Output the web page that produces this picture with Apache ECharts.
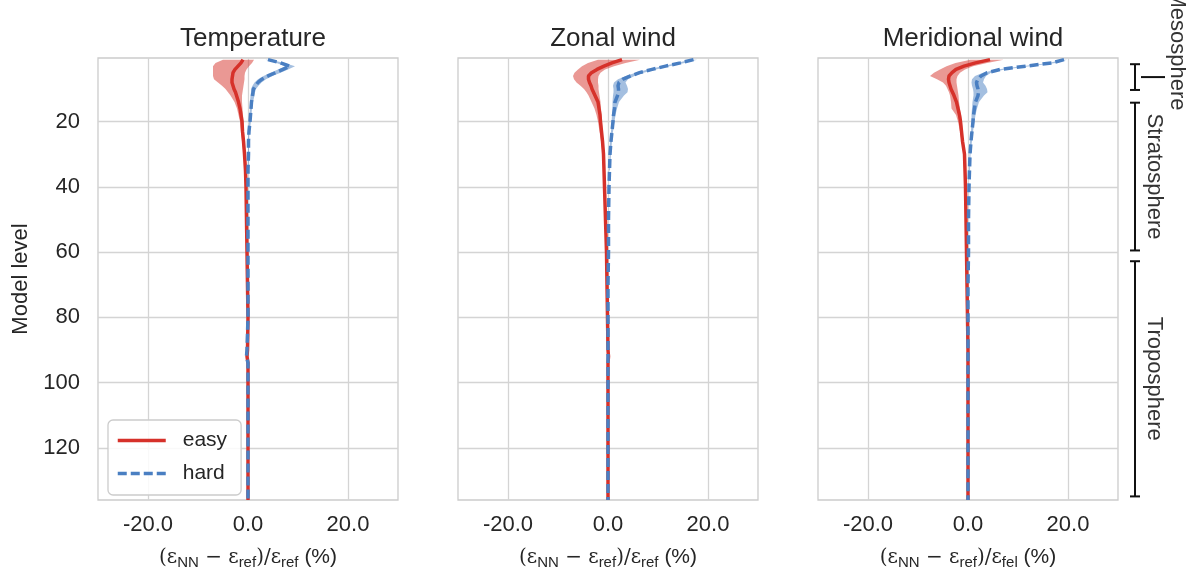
<!DOCTYPE html>
<html>
<head>
<meta charset="utf-8">
<script src="https://cdn.jsdelivr.net/npm/echarts@6/dist/echarts.min.js"></script>
<style>
html, body { margin: 0; padding: 0; background: #fff; }
#chart { width: 1186px; height: 575px; }
</style>
</head>
<body>
<div id="chart"></div>
<script>
var lineLevels = [1, 2, 3, 4, 5, 6, 7, 8, 9, 10, 11, 12, 14, 16, 18, 20, 23, 26, 30, 35, 40, 50, 60, 70, 80, 90, 92, 94, 100, 110, 120, 130, 136]
var bandLevels = [1, 2, 3, 4, 5, 6, 7, 8, 9, 10, 11, 12, 14, 16, 18, 20, 23, 26, 30, 35]

var panelTitles = ['Temperature', 'Zonal wind', 'Meridional wind']
var xTicks = [-20, 0, 20]
var yTicks = [20, 40, 60, 80, 100, 120]

// Temperature
var tEasy = [-1.0, -1.4, -2.0, -2.6, -3.0, -3.1, -3.2, -3.2, -3.0, -2.8, -2.5, -2.3, -1.9, -1.6, -1.4, -1.2, -1.1, -0.9, -0.7, -0.5, -0.4, -0.3, -0.2, -0.1, 0.0, -0.1, -0.2, 0.0, 0.0, 0.0, 0.0, 0.0, 0.0]
var tEasyLo = [-5.0, -6.5, -7.0, -7.0, -7.0, -7.0, -6.8, -6.0, -5.2, -4.5, -4.0, -3.5, -2.7, -2.2, -1.9, -1.6, -1.4, -1.2, -0.9, -0.7]
var tEasyHi = [1.2, 0.8, 0.2, -0.3, -0.6, -0.7, -0.7, -0.8, -0.9, -1.0, -1.1, -1.2, -1.2, -1.1, -1.0, -0.9, -0.8, -0.7, -0.5, -0.4]
var tHard = [4.0, 6.5, 8.4, 7.0, 5.5, 4.0, 2.8, 2.0, 1.5, 1.1, 1.0, 0.9, 0.7, 0.6, 0.5, 0.4, 0.2, 0.1, 0.1, 0.0, 0.0, 0.0, 0.0, 0.0, 0.0, -0.2, -0.3, 0.0, 0.0, 0.0, 0.0, 0.0, 0.0]
var tHardLo = [3.5, 5.7, 7.4, 6.0, 4.5, 3.1, 2.0, 1.3, 0.9, 0.6, 0.6, 0.5, 0.4, 0.4, 0.3, 0.2, 0.1, 0.0, 0.0, -0.1]
var tHardHi = [4.5, 7.3, 9.4, 8.0, 6.5, 4.9, 3.6, 2.7, 2.1, 1.6, 1.4, 1.3, 1.0, 0.8, 0.7, 0.6, 0.3, 0.2, 0.2, 0.1]

// Zonal wind
var uEasy = [2.8, 0.8, -0.8, -2.2, -3.3, -3.9, -3.9, -3.7, -3.4, -3.2, -2.9, -2.6, -2.0, -1.8, -1.6, -1.5, -1.3, -1.1, -0.9, -0.8, -0.7, -0.5, -0.3, -0.2, -0.1, 0.0, 0.1, 0.0, 0.0, 0.0, 0.0, 0.0, 0.0]
var uEasyLo = [-2.0, -4.0, -5.2, -6.0, -6.7, -7.0, -6.8, -6.3, -5.5, -4.8, -4.3, -3.9, -3.3, -2.7, -2.3, -2.0, -1.7, -1.4, -1.1, -0.9]
var uEasyHi = [6.4, 3.5, 1.2, -0.6, -1.5, -1.9, -2.0, -2.0, -1.9, -1.9, -1.8, -1.7, -1.5, -1.4, -1.3, -1.2, -1.1, -0.9, -0.7, -0.6]
var uHard = [17.1, 14.5, 11.5, 8.8, 6.3, 4.5, 3.0, 2.2, 2.0, 2.1, 2.1, 1.9, 1.4, 1.3, 1.1, 1.0, 0.8, 0.6, 0.4, 0.3, 0.2, 0.1, 0.1, 0.0, 0.0, 0.0, 0.0, 0.0, 0.0, 0.0, 0.0, 0.0, 0.0]
var uHardLo = [16.4, 13.8, 10.8, 8.0, 5.5, 3.6, 2.0, 1.2, 1.0, 1.1, 1.1, 1.0, 0.9, 0.9, 0.8, 0.7, 0.6, 0.4, 0.3, 0.2]
var uHardHi = [17.8, 15.3, 12.3, 9.6, 7.1, 5.3, 4.0, 3.5, 3.8, 4.0, 3.9, 3.2, 2.2, 1.8, 1.5, 1.3, 1.0, 0.8, 0.6, 0.4]

// Meridional wind
var vEasy = [4.4, 1.5, -0.8, -2.4, -3.2, -3.8, -3.9, -3.8, -3.6, -3.4, -3.1, -2.8, -2.3, -2.0, -1.7, -1.5, -1.3, -1.1, -0.7, -0.6, -0.5, -0.4, -0.3, -0.2, -0.1, 0.0, 0.0, 0.0, 0.0, 0.0, 0.0, 0.0, 0.0]
var vEasyLo = [0.5, -2.5, -4.3, -5.6, -6.8, -7.6, -6.2, -5.0, -4.4, -4.1, -3.8, -3.6, -3.4, -3.3, -2.4, -2.0, -1.6, -1.3, -0.9, -0.8]
var vEasyHi = [7.1, 3.8, 1.0, -0.6, -1.6, -2.1, -2.3, -2.3, -2.2, -2.1, -2.0, -1.9, -1.8, -1.6, -1.4, -1.2, -1.1, -0.9, -0.6, -0.5]
var vHard = [19.2, 16.8, 11.5, 6.5, 3.8, 2.6, 2.0, 1.7, 1.8, 2.0, 2.1, 2.0, 1.5, 1.3, 1.1, 1.0, 0.8, 0.6, 0.4, 0.3, 0.2, 0.1, 0.1, 0.0, 0.0, 0.0, 0.0, 0.0, 0.0, 0.0, 0.0, 0.0, 0.0]
var vHardLo = [18.8, 16.2, 10.8, 5.8, 3.0, 1.4, 0.8, 0.7, 0.8, 1.0, 1.1, 1.1, 0.9, 0.8, 0.7, 0.7, 0.6, 0.4, 0.3, 0.2]
var vHardHi = [19.8, 17.5, 12.3, 7.3, 4.6, 3.6, 3.2, 3.0, 3.5, 3.8, 3.9, 3.2, 2.2, 1.8, 1.5, 1.3, 1.0, 0.8, 0.5, 0.4]

// atmosphere layers on the right (model level ranges)
var layerNames = ['Mesosphere', 'Stratosphere', 'Troposphere']
var layerTop = [2.4, 14.2, 62.8]
var layerBottom = [10.3, 59.5, 134.9]

var RED = '#d6312a'
var BLUE = '#4a7fc2'
var TEXT = '#262626'
var FONT = 'Liberation Sans'

var panels = [
	{ easy: tEasy, easyLo: tEasyLo, easyHi: tEasyHi, hard: tHard, hardLo: tHardLo, hardHi: tHardHi, den: 'ref' },
	{ easy: uEasy, easyLo: uEasyLo, easyHi: uEasyHi, hard: uHard, hardLo: uHardLo, hardHi: uHardHi, den: 'ref' },
	{ easy: vEasy, easyLo: vEasyLo, easyHi: vEasyHi, hard: vHard, hardLo: vHardLo, hardHi: vHardHi, den: 'fel' }
]
var gridLefts = [98, 458, 818]

function pairs(xs, ys) {
	return xs.map(function (x, i) { return [x, ys[i]] })
}

function bandSeries(lo, hi, color, idx) {
	return {
		type: 'custom',
		xAxisIndex: idx,
		yAxisIndex: idx,
		silent: true,
		z: 1,
		data: [[0, 1]],
		renderItem: function (params, api) {
			var pts = []
			for (var i = 0; i < bandLevels.length; i++) {
				pts.push(api.coord([lo[i], bandLevels[i]]))
			}
			for (var j = bandLevels.length - 1; j >= 0; j--) {
				pts.push(api.coord([hi[j], bandLevels[j]]))
			}
			return { type: 'polygon', shape: { points: pts }, style: { fill: color } }
		}
	}
}

var grids = [], xAxes = [], yAxes = [], titles = [], series = []
panels.forEach(function (p, k) {
	grids.push({ left: gridLefts[k], top: 58, width: 300, height: 445, show: true, borderColor: '#cccccc', borderWidth: 1.3 })
	titles.push({
		text: panelTitles[k], left: gridLefts[k] + 150, top: 21, textAlign: 'center',
		textStyle: { fontFamily: FONT, fontSize: 26, fontWeight: 'normal', color: TEXT }
	})
	xAxes.push({
		type: 'value', gridIndex: k, min: -30, max: 30,
		name: '{p|(}{e|ε}{s|NN}{p| − }{e|ε}{s|ref}{p|)/}{e|ε}{s|' + p.den + '}{o| (%)}',
		nameLocation: 'middle', nameGap: 45,
		nameTextStyle: {
			rich: {
				p: { fontFamily: 'DejaVu Serif', fontSize: 20, color: TEXT },
				e: { fontFamily: 'DejaVu Serif', fontSize: 20, color: TEXT },
				s: { fontFamily: FONT, fontSize: 15, color: TEXT, padding: [10, 0, 0, 0] },
				o: { fontFamily: FONT, fontSize: 21, color: TEXT }
			}
		},
		axisLine: { show: false },
		axisTick: { show: false, customValues: xTicks },
		axisLabel: {
			customValues: xTicks, margin: 14, fontFamily: FONT, fontSize: 22, color: TEXT,
			formatter: function (v) { return v.toFixed(1) }
		},
		splitLine: { show: true, lineStyle: { color: '#d4d4d4', width: 1.3 } }
	})
	yAxes.push({
		type: 'value', gridIndex: k, inverse: true, min: 0.5, max: 136,
		name: k === 0 ? 'Model level' : '',
		nameLocation: 'middle', nameGap: 66,
		nameTextStyle: { fontFamily: FONT, fontSize: 22, color: TEXT },
		axisLine: { show: false },
		axisTick: { show: false, customValues: yTicks },
		axisLabel: { show: k === 0, customValues: yTicks, margin: 18, fontFamily: FONT, fontSize: 22, color: TEXT },
		splitLine: { show: true, lineStyle: { color: '#d4d4d4', width: 1.3 } }
	})
	series.push(bandSeries(p.easyLo, p.easyHi, 'rgba(214,49,42,0.5)', k))
	series.push(bandSeries(p.hardLo, p.hardHi, 'rgba(74,127,194,0.5)', k))
	series.push({
		name: 'easy', type: 'line', xAxisIndex: k, yAxisIndex: k, z: 3,
		symbol: 'none', data: pairs(p.easy, lineLevels),
		lineStyle: { color: RED, width: 3.5 }, itemStyle: { color: RED }
	})
	series.push({
		name: 'hard', type: 'line', xAxisIndex: k, yAxisIndex: k, z: 4,
		symbol: 'none', data: pairs(p.hard, lineLevels),
		lineStyle: { color: BLUE, width: 3.5, type: [9, 4] }, itemStyle: { color: BLUE }
	})
})

var myChart = echarts.init(document.getElementById('chart'))
myChart.setOption({
	animation: false,
	title: titles,
	grid: grids,
	xAxis: xAxes,
	yAxis: yAxes,
	legend: {
		data: ['easy', 'hard'],
		orient: 'vertical',
		left: 108, top: 420,
		padding: [10, 14, 11, 8],
		itemWidth: 48, itemHeight: 20, itemGap: 12,
		itemStyle: { opacity: 0 },
		lineStyle: { width: 3.5 },
		borderColor: '#cccccc', borderWidth: 1.3, borderRadius: 5,
		backgroundColor: 'rgba(255,255,255,0.85)',
		textStyle: { fontFamily: FONT, fontSize: 21, color: TEXT, padding: [0, 0, 0, 12] }
	},
	series: series
})

// right-hand layer brackets, placed through the third panel's y axis
var graphics = []
var bx = 1135
layerNames.forEach(function (name, i) {
	var y0 = myChart.convertToPixel({ gridIndex: 2 }, [0, layerTop[i]])[1]
	var y1 = myChart.convertToPixel({ gridIndex: 2 }, [0, layerBottom[i]])[1]
	var ls = { stroke: '#111', lineWidth: 2 }
	graphics.push({ type: 'line', shape: { x1: bx, y1: y0, x2: bx, y2: y1 }, style: ls })
	graphics.push({ type: 'line', shape: { x1: bx - 5, y1: y0, x2: bx + 5, y2: y0 }, style: ls })
	graphics.push({ type: 'line', shape: { x1: bx - 5, y1: y1, x2: bx + 5, y2: y1 }, style: ls })
	var tx = bx + 19, ty = (y0 + y1) / 2
	if (i === 0) {
		// label too long for its bracket: leader line out to the side
		graphics.push({ type: 'line', shape: { x1: bx + 6, y1: ty, x2: bx + 30, y2: ty }, style: ls })
		tx = bx + 42
		ty = 50
	}
	graphics.push({
		type: 'text', x: tx, y: ty, rotation: -Math.PI / 2,
		style: { text: name, fontFamily: FONT, fontSize: 22, fill: '#333', align: 'center', verticalAlign: 'middle' }
	})
})
myChart.setOption({ graphic: graphics })
</script>
</body>
</html>
